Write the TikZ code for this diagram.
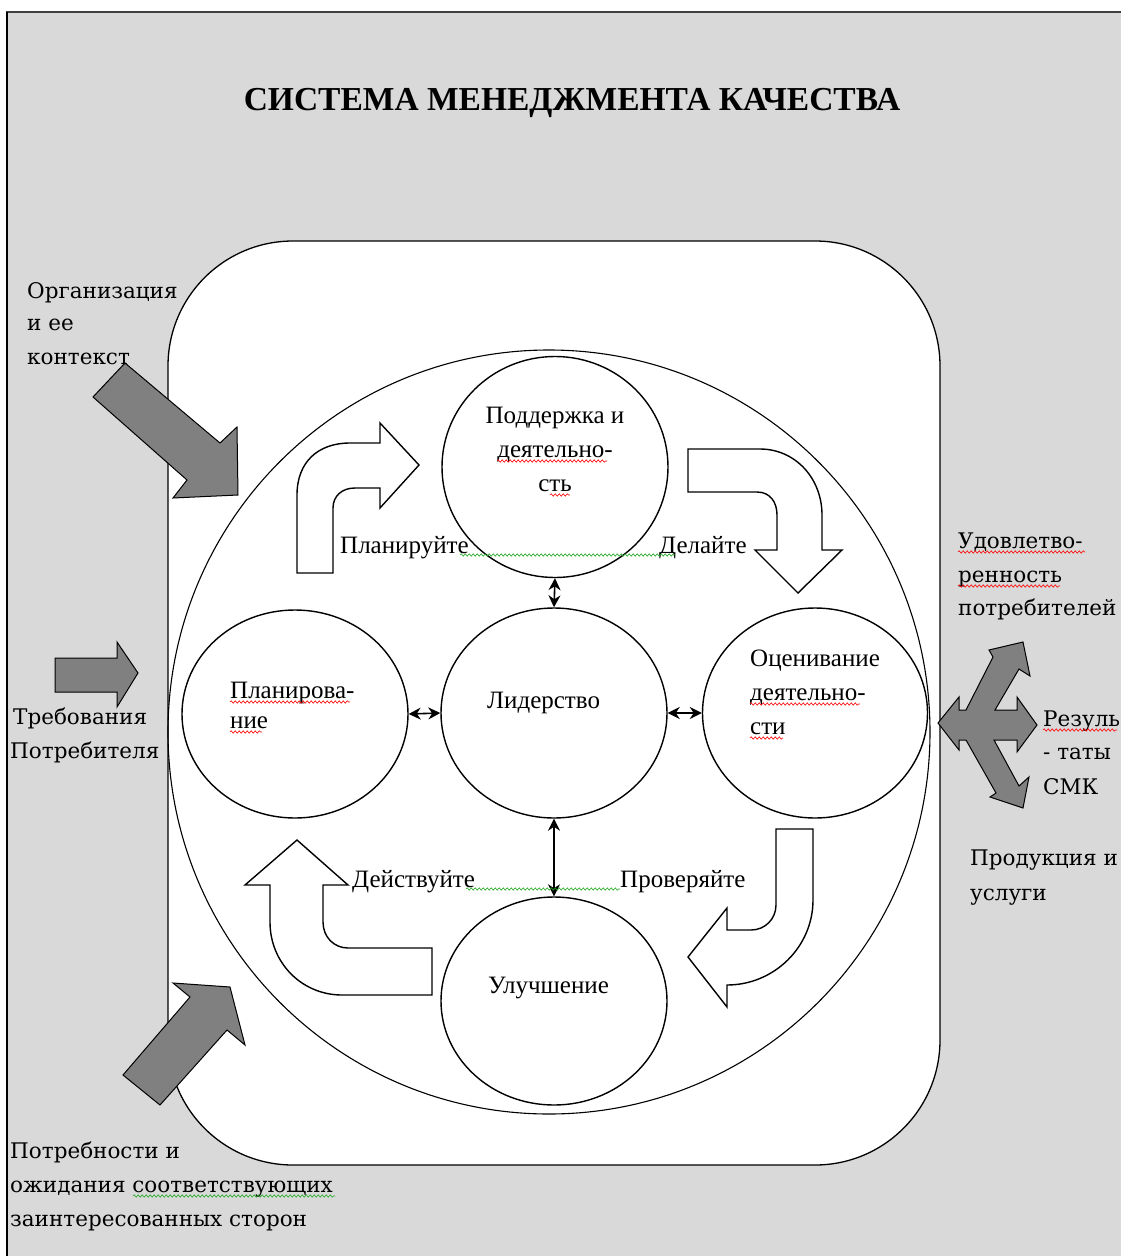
\documentclass[tikz,border=0pt]{standalone}
\usepackage{fontspec}
\setmainfont{Liberation Serif}
\newfontfamily\cambr{DejaVu Serif}
\usetikzlibrary{arrows.meta,shapes.geometric,decorations.pathmorphing}
\definecolor{bg}{HTML}{D9D9D9}
\definecolor{garr}{HTML}{808080}
\definecolor{sqgreen}{HTML}{22AA22}
\begin{document}
\begin{tikzpicture}[x=1pt,y=-1pt,
  circ/.style={ellipse,draw,line width=1.4pt,fill=white,inner sep=0pt},
  dbl/.style={{Stealth[length=12pt,width=12pt]}-{Stealth[length=12pt,width=12pt]},line width=1.6pt},
  warrow/.style={draw,fill=white,line width=1.4pt,line join=miter},
  garrow/.style={draw,fill=garr,line width=1pt},
  tms/.style={font=\fontsize{25}{29}\selectfont,inner sep=0pt},
  cmb/.style={font=\cambr\fontsize{21.5}{25}\selectfont,inner sep=0pt,anchor=base west},
  sqr/.style={draw=red,line width=0.6pt,decorate,decoration={snake,amplitude=1.2pt,segment length=4pt}},
  sqg/.style={draw=sqgreen,line width=0.6pt,decorate,decoration={snake,amplitude=1.2pt,segment length=4pt}}
]
\useasboundingbox (0,0) rectangle (1121,1256);
\fill[bg] (7,12) rectangle (1125,1260);
\draw[line width=2.5pt,black!75] (6,12) -- (1121,12);
\draw[line width=2pt] (7,12) -- (7,1256);

% title
\node[font=\bfseries\fontsize{33.5}{38}\selectfont,inner sep=0pt] (title) at (572,103) {СИСТЕМА МЕНЕДЖМЕНТА КАЧЕСТВА};

% outer rounded rectangle and big circle
\draw[fill=white,line width=1.3pt,rounded corners=125pt] (168,241) rectangle (940,1165);
\draw[line width=1.1pt] (549,732) ellipse [x radius=381pt, y radius=382pt];

% circles
\node[circ,minimum width=226pt,minimum height=221pt] (sup) at (555,467) {};
\node[circ,minimum width=226pt,minimum height=210pt] (lead) at (554,713) {};
\node[circ,minimum width=226pt,minimum height=208pt] (plan) at (295,714) {};
\node[circ,minimum width=225pt,minimum height=210pt] (eval) at (815,713) {};
\node[circ,minimum width=226pt,minimum height=208pt] (impr) at (554,1001) {};

\draw[dbl] (sup.south) -- (lead.north);
\draw[dbl] (plan.east) -- (lead.west);
\draw[dbl] (lead.east) -- (eval.west);
\draw[dbl] (lead.south) -- (impr.north);

% circle texts
\node[tms,align=center,anchor=north] (tsup) at (555,407) {Поддержка и\\[5pt]деятельно-\\[5pt]сть};
\node[tms,anchor=base west] (tlead) at (487,708) {Лидерство};
\node[tms,anchor=base west] (tplan1) at (230,698) {Планирова-};
\node[tms,anchor=base west] (tplan2) at (230,728) {ние};
\node[tms,anchor=base west] (teval1) at (750,666) {Оценивание};
\node[tms,anchor=base west] (teval2) at (750,700) {деятельно-};
\node[tms,anchor=base west] (teval3) at (750,734) {сти};
\node[tms,anchor=base west] (timpr) at (488,993) {Улучшение};

% PDCA labels
\node[tms,anchor=base west] (lplan) at (340,553) {Планируйте};
\node[tms,anchor=base west] (ldo) at (659,553) {Делайте};
\node[tms,anchor=base west] (lact) at (352,887) {Действуйте};
\node[tms,anchor=base west] (lchk) at (620,887) {Проверяйте};

% white bent arrows
\path[warrow] (297,573) -- (297,495) .. controls (297,462) and (318,443) .. (350,443) -- (380,443) -- (380,423) -- (419,465) -- (380,508) -- (380,488) -- (355,488) .. controls (342,488) and (333,496) .. (333,508) -- (333,573) -- cycle;
\path[warrow] (688,449) -- (760,449) .. controls (795,449) and (822,478) .. (822,515) -- (822,550) -- (842,550) -- (798,593) -- (755,550) -- (777,550) -- (777,515) .. controls (777,502) and (770,492) .. (757,492) -- (688,492) -- cycle;
\path[warrow] (776,829) -- (813,829) -- (813,900) .. controls (813,947) and (774,985) .. (727,985) -- (727,1007) -- (688,957) -- (727,908) -- (727,930) -- (751,930) .. controls (765,930) and (776,919) .. (776,905) -- cycle;
\path[warrow] (432,948) -- (348,948) .. controls (334,948) and (323,937) .. (323,922) -- (323,885) -- (348,885) -- (297,840) -- (245,885) -- (270,885) -- (270,922) .. controls (270,963) and (302,995) .. (342,995) -- (432,995) -- cycle;

% gray block arrows
\path[garrow] (125,363) -- (220,443) -- (237,427) -- (238,495) -- (173,498) -- (187,480) -- (93,397) -- cycle;
\path[garrow] (55,658) -- (117,658) -- (117,642) -- (138,673) -- (117,707) -- (117,692) -- (55,692) -- cycle;
\path[garrow] (123,1075) -- (190,997) -- (173,983) -- (230,987) -- (245,1045) -- (227,1030) -- (160,1105) -- cycle;
\path[garrow] (938,723) -- (959,697) -- (959,710) -- (966,710) -- (993,657) -- (989,650) -- (1023,642) -- (1030,676) -- (1019,669) -- (995,710) -- (1017,710) -- (1017,697) -- (1037,725) -- (1017,752) -- (1017,740) -- (994,740) -- (1019,786) -- (1029,777) -- (1023,808) -- (990,797) -- (996,793) -- (966,740) -- (959,740) -- (959,750) -- cycle;

% outside labels
\node[cmb] (org1) at (27,298) {Организация};
\node[cmb] (org2) at (27,330) {и ее};
\node[cmb] (org3) at (27,364) {контекст};
\node[cmb] (req1) at (13,724) {Требования};
\node[cmb] (req2) at (10,758) {Потребителя};
\node[cmb] (sat1) at (958,548) {Удовлетво-};
\node[cmb] (sat2) at (958,582) {ренность};
\node[cmb] (sat3) at (958,615) {потребителей};
\node[cmb] (res1) at (1043,726) {Резуль};
\node[cmb] (res2) at (1043,759) {- таты};
\node[cmb] (res3) at (1043,794) {СМК};
\node[cmb] (prod1) at (970,865) {Продукция и};
\node[cmb] (prod2) at (970,900) {услуги};
\node[cmb] (need1) at (10,1158) {Потребности и};
\node[cmb] (need2) at (10,1192) {ожидания соответствующих};
\node[cmb] (need3) at (10,1226) {заинтересованных сторон};

% spell-check squiggles
\path[sqr] (497,461) -- (607,461);
\path[sqr] (550,495) -- (570,495);
\path[sqr] (230,702) -- (350,702);
\path[sqr] (230,732) -- (262,732);
\path[sqr] (750,704) -- (860,704);
\path[sqr] (750,738) -- (783,738);
\path[sqr] (958,552) -- (1085,552);
\path[sqr] (958,586) -- (1060,586);
\path[sqr] (1043,730) -- (1117,730);
\path[sqg] (460,555) -- (675,555);
\path[sqg] (466,889) -- (620,889);
\path[sqg] (133,1196) -- (335,1196);
\end{tikzpicture}
\end{document}
